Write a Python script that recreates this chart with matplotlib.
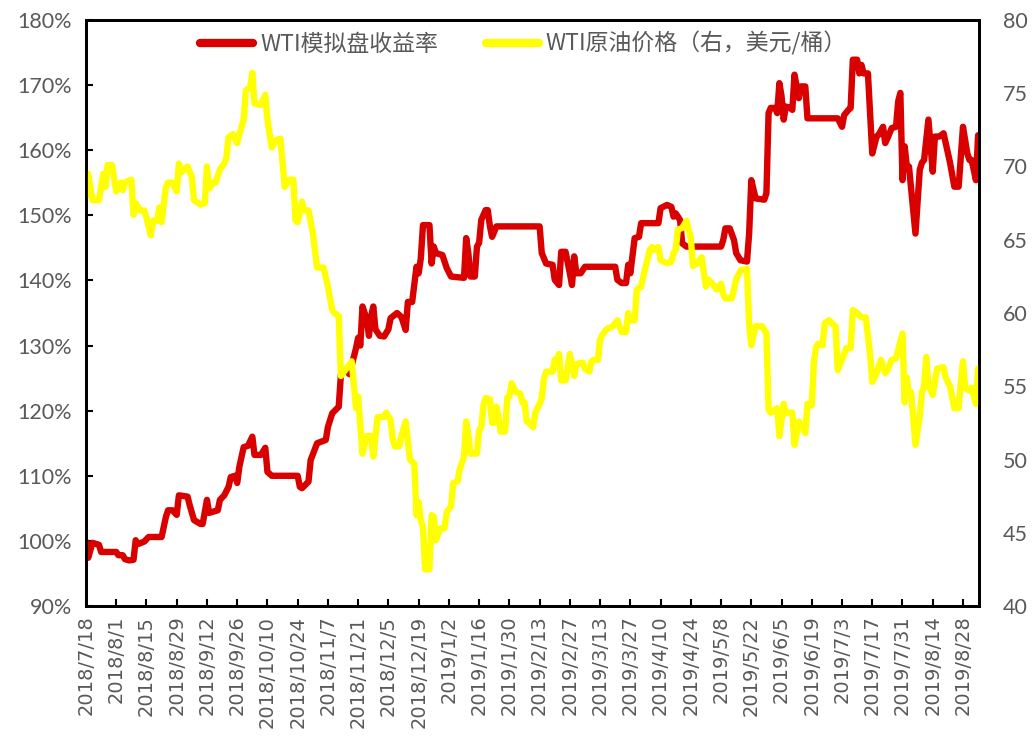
import matplotlib
matplotlib.use('Agg')
import matplotlib.pyplot as plt
import pandas as pd

# ---------------- data ----------------
start_date = '2018-07-18'
end_date = '2019-09-04'

tick_dates = ['2018-07-18', '2018-08-01', '2018-08-15', '2018-08-29', '2018-09-12', '2018-09-26',
              '2018-10-10', '2018-10-24', '2018-11-07', '2018-11-21', '2018-12-05', '2018-12-19',
              '2019-01-02', '2019-01-16', '2019-01-30', '2019-02-13', '2019-02-27', '2019-03-13',
              '2019-03-27', '2019-04-10', '2019-04-24', '2019-05-08', '2019-05-22', '2019-06-05',
              '2019-06-19', '2019-07-03', '2019-07-17', '2019-07-31', '2019-08-14', '2019-08-28']
tick_labels = ['2018/7/18', '2018/8/1', '2018/8/15', '2018/8/29', '2018/9/12', '2018/9/26',
               '2018/10/10', '2018/10/24', '2018/11/7', '2018/11/21', '2018/12/5', '2018/12/19',
               '2019/1/2', '2019/1/16', '2019/1/30', '2019/2/13', '2019/2/27', '2019/3/13',
               '2019/3/27', '2019/4/10', '2019/4/24', '2019/5/8', '2019/5/22', '2019/6/5',
               '2019/6/19', '2019/7/3', '2019/7/17', '2019/7/31', '2019/8/14', '2019/8/28']

series_names = ['WTI模拟盘收益率', 'WTI原油价格（右，美元/桶）']

# WTI simulated-account return (%), days counted from start_date
return_days = [0, 1, 3, 6, 7, 14, 15, 17, 18, 20, 22, 23, 24, 27, 29, 35, 37, 38, 40, 42,
               43, 47, 48, 50, 53, 54, 56, 57, 61, 62, 64, 66, 67, 69, 70, 71, 73, 75, 77, 78,
               81, 83, 84, 86, 98, 99, 100, 103, 104, 107, 111, 112, 114, 117, 118, 120, 122, 125, 126, 127,
               128, 130, 131, 132, 133, 134, 136, 138, 140, 141, 144, 146, 148, 149, 151, 153, 154, 155, 156, 159,
               160, 161, 162, 165, 167, 169, 175, 176, 177, 178, 180, 181, 182, 183, 185, 186, 187, 188, 190, 210,
               211, 213, 216, 217, 219, 220, 222, 224, 225, 226, 227, 229, 231, 245, 246, 248, 250, 251, 252, 254,
               256, 257, 265, 266, 269, 271, 272, 273, 275, 276, 278, 294, 295, 296, 298, 300, 301, 303, 306, 307,
               308, 310, 314, 315, 316, 317, 319, 320, 321, 322, 323, 324, 326, 327, 328, 330, 331, 333, 334, 348,
               350, 351, 353, 354, 355, 357, 358, 359, 360, 362, 363, 364, 366, 367, 369, 370, 371, 373, 375, 376,
               377, 378, 379, 380, 381, 384, 386, 387, 388, 390, 391, 392, 393, 395, 397, 398, 400, 402, 404, 405,
               406, 408, 409, 410, 412, 413]
return_values = [99.9, 97.4, 99.7, 99.4, 98.3, 98.3, 97.8, 97.8, 97.2, 97.0, 97.1, 100.1, 99.5, 99.9, 100.6, 100.6, 103.7, 104.7, 104.7, 104.0,
                 107.0, 106.8, 105.5, 103.2, 102.6, 102.6, 106.3, 104.3, 104.7, 106.3, 107.0, 108.3, 109.8, 110.0, 108.9, 111.4, 114.4, 114.6, 116.0, 113.2,
                 113.2, 114.3, 110.6, 110.0, 110.0, 108.3, 108.1, 109.1, 112.4, 115.0, 115.5, 117.5, 119.6, 120.6, 125.5, 126.3, 125.6, 129.6, 131.2, 130.0,
                 136.0, 134.0, 131.5, 134.5, 136.0, 132.5, 131.5, 131.4, 132.5, 134.2, 135.0, 134.4, 132.4, 136.7, 136.7, 142.1, 141.1, 143.4, 148.5, 148.5,
                 142.6, 145.2, 144.2, 143.9, 141.9, 140.6, 140.4, 146.5, 144.2, 140.6, 140.6, 145.2, 145.8, 149.3, 150.8, 150.8, 148.3, 146.7, 148.3, 148.3,
                 144.2, 142.6, 142.4, 140.1, 139.3, 144.4, 144.4, 141.1, 139.3, 143.7, 141.1, 141.1, 142.1, 142.1, 140.1, 139.6, 139.6, 142.4, 141.1, 146.5,
                 146.7, 148.8, 148.8, 151.1, 151.6, 151.3, 149.8, 150.3, 149.3, 145.7, 145.2, 145.2, 146.2, 148.0, 148.0, 146.2, 144.2, 143.1, 142.9, 147.2,
                 155.4, 152.6, 152.4, 153.4, 165.7, 166.5, 166.5, 165.7, 170.3, 168.3, 164.7, 166.7, 166.5, 166.2, 171.6, 168.0, 169.8, 169.8, 164.9, 164.9,
                 163.6, 165.4, 166.2, 166.5, 173.9, 173.9, 171.8, 173.1, 171.8, 171.8, 165.7, 159.5, 162.1, 162.4, 163.6, 161.1, 161.8, 163.4, 163.6, 167.5,
                 168.8, 155.4, 160.6, 157.5, 157.5, 147.2, 157.0, 158.1, 158.5, 164.7, 160.6, 156.7, 162.1, 162.1, 162.6, 161.1, 158.1, 154.4, 154.4, 159.0,
                 163.6, 159.5, 158.5, 158.5, 155.4, 162.3]

# WTI crude price (USD/bbl), days counted from start_date
oil_days = [0, 1, 3, 6, 7, 8, 9, 10, 12, 14, 16, 17, 18, 21, 22, 23, 25, 27, 28, 30,
            31, 33, 34, 35, 37, 38, 40, 42, 43, 44, 47, 49, 50, 53, 55, 56, 57, 59, 60, 62,
            64, 65, 66, 68, 70, 71, 73, 74, 76, 77, 78, 81, 83, 84, 86, 88, 90, 92, 94, 96,
            97, 98, 100, 101, 103, 105, 107, 110, 112, 114, 115, 117, 118, 121, 123, 125, 126, 128, 130, 132,
            133, 135, 138, 139, 141, 142, 143, 145, 146, 148, 150, 152, 153, 154, 155, 156, 157, 159, 160, 161,
            162, 164, 166, 167, 169, 170, 172, 173, 175, 176, 177, 178, 181, 182, 183, 184, 185, 187, 188, 189,
            190, 191, 192, 194, 195, 196, 197, 199, 201, 202, 203, 204, 205, 207, 208, 210, 211, 212, 213, 216,
            217, 218, 219, 220, 222, 224, 226, 227, 229, 230, 231, 233, 234, 235, 237, 238, 239, 241, 244, 246,
            248, 250, 251, 252, 254, 255, 257, 258, 261, 262, 263, 265, 266, 269, 271, 272, 273, 274, 276, 278,
            280, 281, 283, 285, 287, 288, 290, 292, 294, 295, 296, 299, 301, 303, 306, 307, 308, 310, 313, 315,
            316, 317, 320, 321, 323, 324, 327, 328, 330, 333, 334, 336, 337, 338, 339, 341, 342, 344, 346, 347,
            348, 350, 352, 354, 355, 357, 359, 361, 363, 364, 366, 368, 370, 371, 373, 375, 378, 379, 380, 381,
            382, 384, 386, 387, 388, 389, 390, 392, 394, 397, 398, 400, 402, 404, 405, 406, 407, 409, 410, 412,
            413]
oil_values = [68.0, 69.5, 67.7, 67.7, 68.6, 69.5, 68.6, 70.1, 70.1, 68.3, 68.9, 68.4, 68.9, 69.1, 66.7, 67.5, 67.0, 67.0, 66.5, 65.3,
              66.3, 66.3, 67.2, 66.2, 68.6, 68.9, 68.9, 68.3, 70.2, 69.6, 70.0, 69.3, 67.7, 67.4, 67.5, 70.0, 68.5, 68.9, 68.9, 69.8,
              70.2, 70.6, 72.0, 72.2, 71.6, 72.2, 73.2, 75.2, 75.4, 76.4, 74.3, 74.2, 74.9, 73.2, 71.3, 71.8, 71.9, 68.6, 69.1, 69.1,
              66.3, 66.2, 67.6, 67.0, 67.0, 65.5, 63.1, 63.1, 61.8, 60.2, 60.0, 59.8, 55.7, 56.3, 56.7, 53.5, 54.3, 50.4, 51.6, 51.6,
              50.2, 52.9, 52.9, 53.2, 52.7, 51.4, 50.9, 50.9, 51.6, 52.6, 50.0, 49.7, 46.2, 47.1, 45.8, 45.4, 42.5, 42.5, 46.2, 46.1,
              44.5, 45.3, 45.3, 46.4, 46.8, 48.4, 48.5, 49.3, 50.2, 52.6, 51.7, 50.4, 50.4, 52.0, 52.2, 53.7, 54.2, 54.1, 52.5, 52.5,
              53.6, 52.8, 51.9, 51.9, 54.2, 54.3, 55.2, 54.6, 54.5, 53.9, 53.9, 52.6, 52.5, 52.2, 53.2, 53.8, 54.2, 55.5, 56.0, 56.0,
              56.8, 56.8, 57.2, 55.4, 55.4, 57.2, 55.7, 56.5, 56.6, 56.6, 56.2, 56.0, 56.7, 56.8, 56.8, 58.2, 58.5, 58.9, 59.1, 59.5,
              58.7, 58.7, 60.0, 59.5, 59.5, 61.6, 61.8, 62.5, 64.3, 64.5, 64.3, 64.5, 63.6, 63.4, 63.5, 64.1, 64.3, 65.7, 65.8, 66.3,
              65.1, 63.2, 63.4, 63.8, 61.8, 62.3, 62.0, 61.6, 62.0, 61.3, 61.0, 61.0, 62.3, 62.9, 63.0, 59.3, 57.8, 59.1, 59.1, 58.6,
              53.4, 53.2, 53.5, 51.6, 53.8, 53.2, 53.2, 51.0, 52.6, 51.8, 53.8, 53.7, 56.7, 57.7, 57.9, 57.8, 59.3, 59.5, 59.2, 59.1,
              56.1, 56.8, 57.6, 57.6, 60.2, 60.0, 59.7, 59.7, 57.2, 55.3, 55.9, 56.8, 55.9, 56.1, 56.8, 56.9, 58.6, 53.9, 55.6, 54.4,
              54.6, 51.0, 52.9, 54.6, 55.0, 57.0, 55.1, 54.4, 56.2, 56.3, 55.6, 55.0, 53.5, 53.5, 55.3, 56.7, 54.9, 54.7, 54.9, 53.8,
              56.2]

left_ticks = [90, 100, 110, 120, 130, 140, 150, 160, 170, 180]
right_ticks = [40, 45, 50, 55, 60, 65, 70, 75, 80]

# ---------------- drawing ----------------
plt.rcParams['font.family'] = ['Lato', 'Noto Sans CJK SC', 'DejaVu Sans']
TXT = '#595959'
RED = '#D90000'
YEL = '#FFFF00'

start = pd.Timestamp(start_date)
ret_dates = start + pd.to_timedelta(return_days, unit='D')
oil_dates = start + pd.to_timedelta(oil_days, unit='D')

fig = plt.figure(figsize=(10.32, 7.36), dpi=100)
ax = fig.add_axes([86 / 1032, 130 / 736, 893 / 1032, 586 / 736])
ax2 = ax.twinx()

l1, = ax.plot(ret_dates, return_values, color=RED, lw=4.6, solid_joinstyle='round',
              solid_capstyle='round', label=series_names[0])
l2, = ax2.plot(oil_dates, oil_values, color=YEL, lw=4.6, solid_joinstyle='round',
               solid_capstyle='round', label=series_names[1])

ax.set_xlim(start, pd.Timestamp(end_date) + pd.Timedelta(hours=10))
ax.set_ylim(left_ticks[0], left_ticks[-1])
ax2.set_ylim(right_ticks[0], right_ticks[-1])

ax.set_yticks(left_ticks)
ax.set_yticklabels([f'{t}%' for t in left_ticks])
ax2.set_yticks(right_ticks)
ax2.set_yticklabels([str(t) for t in right_ticks])

ax.set_xticks(pd.to_datetime(tick_dates))
ax.set_xticklabels(tick_labels, rotation=90, family='DejaVu Sans', fontsize=14, color=TXT)

ax.tick_params(axis='y', direction='in', length=5, width=1.5, labelsize=15.5, labelcolor=TXT, pad=10)
ax.tick_params(axis='x', direction='in', length=5, width=1.5, pad=7)
ax2.tick_params(axis='y', length=0, labelsize=15.5, labelcolor=TXT, pad=17)

for a in (ax, ax2):
    for s in a.spines.values():
        s.set_linewidth(2)
        s.set_color('black')

leg = ax2.legend(handles=[l1, l2], loc='upper center', bbox_to_anchor=(0.49, 1.015), ncol=2,
                 frameon=False, handlelength=2.3, columnspacing=2.1,
                 handletextpad=0.3, prop={'family': ['Noto Sans CJK SC', 'DejaVu Sans'], 'size': 16.5})
for t in leg.get_texts():
    t.set_color(TXT)
for h in leg.get_lines():
    h.set_linewidth(6)

fig.savefig('out.png', dpi=100)
